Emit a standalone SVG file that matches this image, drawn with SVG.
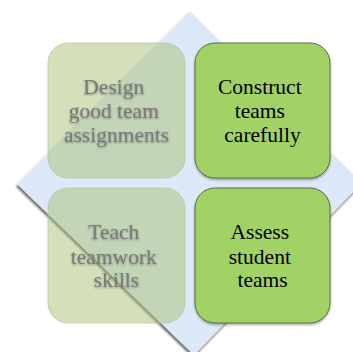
<svg xmlns="http://www.w3.org/2000/svg" width="353" height="352" viewBox="0 0 353 352">
  <defs>
    <filter id="diamondShadow" x="-10%" y="-10%" width="120%" height="120%">
      <feDropShadow dx="-1" dy="2.5" stdDeviation="0.9" flood-color="#000" flood-opacity="0.6"/>
    </filter>
    <filter id="boxShadow" x="-10%" y="-10%" width="120%" height="120%">
      <feDropShadow dx="0" dy="1.5" stdDeviation="1.2" flood-color="#000" flood-opacity="0.35"/>
    </filter>
    <filter id="textGlow" x="-10%" y="-20%" width="120%" height="140%">
      <feDropShadow dx="0" dy="1" stdDeviation="1.2" flood-color="#555" flood-opacity="0.6"/>
    </filter>
  </defs>
  <style>
    .label { font-size: 21.5px; text-anchor: middle; }
    .solid rect { fill: #a2d165; stroke: #5b6e3c; stroke-width: 1; }
    .solid text { fill: #000; }
    .faded rect { fill: #a7c173; fill-opacity: 0.5; stroke: #b8c8a8; stroke-width: 0.8; }
    .faded text { fill: #7a7a7a; }
  </style>

  <!-- background diamond -->
  <g id="backdrop">
    <polygon points="190,11 362,183 194,355 17,184" fill="#dde9f9" filter="url(#diamondShadow)"/>
  </g>

  <g id="connectors"/>

  <g id="design" class="faded">
    <rect x="48" y="43" width="137" height="135" rx="20"/>
    <text class="label" font-family="'Liberation Serif', 'DejaVu Serif', serif" x="116.5" filter="url(#textGlow)">
      <tspan x="116.5" y="94">Design</tspan>
      <tspan x="116.5" y="118">good team</tspan>
      <tspan x="116.5" y="142">assignments</tspan>
    </text>
  </g>

  <g id="construct" class="solid">
    <rect x="195" y="43" width="135" height="135" rx="20" filter="url(#boxShadow)"/>
    <text class="label" font-family="'Liberation Serif', 'DejaVu Serif', serif" x="262.5">
      <tspan x="262.5" y="94">Construct</tspan>
      <tspan x="262.5" y="118">teams</tspan>
      <tspan x="262.5" y="142">carefully</tspan>
    </text>
  </g>

  <g id="teach" class="faded">
    <rect x="48" y="188" width="137" height="135" rx="20"/>
    <text class="label" font-family="'Liberation Serif', 'DejaVu Serif', serif" x="116.5" filter="url(#textGlow)">
      <tspan x="116.5" y="239">Teach</tspan>
      <tspan x="116.5" y="263.5">teamwork</tspan>
      <tspan x="116.5" y="287">skills</tspan>
    </text>
  </g>

  <g id="assess" class="solid">
    <rect x="195" y="188" width="135" height="135" rx="20" filter="url(#boxShadow)"/>
    <text class="label" font-family="'Liberation Serif', 'DejaVu Serif', serif" x="262.5">
      <tspan x="262.5" y="239">Assess</tspan>
      <tspan x="262.5" y="263.5">student</tspan>
      <tspan x="262.5" y="287">teams</tspan>
    </text>
  </g>
</svg>
